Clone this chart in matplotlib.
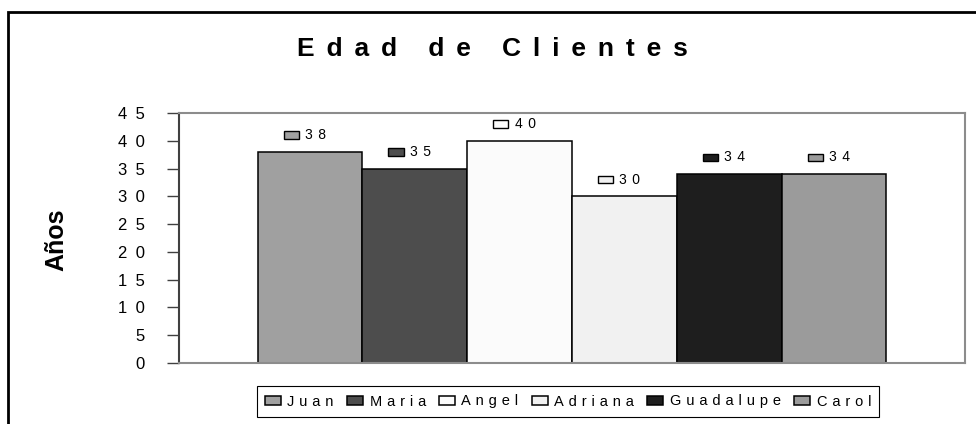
import matplotlib
matplotlib.use("Agg")
import matplotlib.pyplot as plt
from matplotlib.patches import Rectangle
from matplotlib.offsetbox import AnnotationBbox, DrawingArea, HPacker, TextArea

# datos del grafico
clientes = ["Juan", "Maria", "Angel", "Adriana", "Guadalupe", "Carol"]
edades = [38, 35, 40, 30, 34, 34]
colores = ["#a0a0a0", "#4d4d4d", "#fbfbfb", "#f1f1f1", "#1e1e1e", "#9b9b9b"]
yticks = [0, 5, 10, 15, 20, 25, 30, 35, 40, 45]


def spread(s, gap="\u2002"):
    # imita el espaciado de caracteres de Excel
    return gap.join(s)


plt.rcParams['font.family'] = ['Liberation Sans', 'DejaVu Sans']

fig = plt.figure(figsize=(9.76, 4.24), dpi=100)
ax = fig.add_axes([179 / 976, 61 / 424, 786 / 976, 250 / 424])

n = len(clientes)
for i, (nombre, edad, color) in enumerate(zip(clientes, edades, colores)):
    x = i - (n - 1) / 2
    ax.bar(x, edad, width=1.0, color=color, edgecolor='black',
           linewidth=1.1, label=spread(nombre, "\u2004"))
    # etiqueta de datos con clave de leyenda
    box = DrawingArea(12, 6.5)
    box.add_artist(Rectangle((0.5, 0.5), 11, 5.5, facecolor=color,
                             edgecolor='black', linewidth=1.0))
    txt = TextArea(spread(str(edad), "\u2009\u2009"), textprops=dict(fontsize=10))
    pack = HPacker(children=[box, txt], align='center', pad=0, sep=4)
    ab = AnnotationBbox(pack, (x, edad), xybox=(-4, 12), xycoords='data',
                        boxcoords='offset points', frameon=False,
                        box_alignment=(0.5, 0.5))
    ax.add_artist(ab)

ax.set_xlim(-3.75, 3.75)
ax.set_ylim(0, 45)
ax.set_xticks([])
ax.set_yticks(yticks)
ax.set_yticklabels([spread(str(t)) for t in yticks], fontsize=12)
ax.tick_params(axis='y', length=8.6, width=1, color='#404040', pad=16)

ax.spines['left'].set_color('#404040')
ax.spines['left'].set_linewidth(1.5)
for side in ['top', 'right', 'bottom']:
    ax.spines[side].set_color('#8c8c8c')
    ax.spines[side].set_linewidth(1.5)

fig.text(492 / 976, 1 - 56 / 424, spread("Edad de Clientes", "\u2005\u2009"),
         ha='center', va='baseline', fontsize=19, fontweight='bold')
fig.text(56 / 976, 1 - 240 / 424, "Años", rotation=90, ha='center',
         va='center', fontsize=18, fontweight='bold')

leg = ax.legend(loc='center', bbox_to_anchor=(568 / 976, 1 - 401.5 / 424),
                bbox_transform=fig.transFigure, ncol=6, fontsize=10.5,
                fancybox=False, edgecolor='black', framealpha=1,
                borderpad=0.55, handlelength=1.1, handleheight=0.65,
                handletextpad=0.45, columnspacing=0.9, borderaxespad=0)
leg.get_frame().set_linewidth(0.8)

# borde del area del grafico
fig.add_artist(Rectangle((8 / 976, -0.05), 1.1, 1.05 - 12 / 424,
                         transform=fig.transFigure, fill=False,
                         edgecolor='black', linewidth=2, clip_on=False))

fig.savefig("out.png", dpi=100)
